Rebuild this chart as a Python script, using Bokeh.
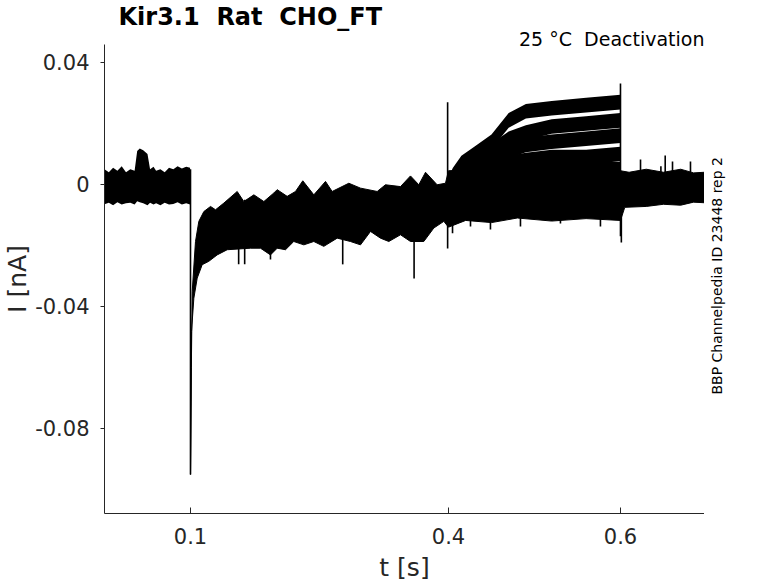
import math
from bokeh.plotting import figure
from bokeh.models import Range1d, FixedTicker, Title, Label
from bokeh.layouts import row
from bokeh.embed import file_html
from bokeh.resources import INLINE

# ---------------- data ----------------
# baseline before the step (0 - 0.1 s): envelope of all sweeps [nA]
t_base  = [0.000, 0.005, 0.010, 0.015, 0.020, 0.025, 0.030, 0.035, 0.038, 0.041, 0.045,
           0.050, 0.053, 0.057, 0.060, 0.065, 0.070, 0.075, 0.080, 0.085, 0.090, 0.095, 0.0995]
base_hi = [0.0050, 0.0040, 0.0055, 0.0045, 0.0060, 0.0040, 0.0050, 0.0045, 0.0110, 0.0118, 0.0112,
           0.0100, 0.0050, 0.0058, 0.0045, 0.0050, 0.0040, 0.0055, 0.0050, 0.0060, 0.0052, 0.0058, 0.0055]
base_lo = [-0.0065, -0.0060, -0.0068, -0.0058, -0.0066, -0.0062, -0.0060, -0.0066, -0.0055, -0.0058, -0.0062,
           -0.0068, -0.0060, -0.0066, -0.0062, -0.0068, -0.0060, -0.0066, -0.0064, -0.0058, -0.0066, -0.0062, -0.0066]

# upper edge of all sweeps after the step (0.1 - 0.7 s) [nA]
t_up = [0.1000, 0.1010, 0.1020, 0.1058, 0.1097, 0.1155, 0.1233, 0.1291, 0.1388, 0.1543,
        0.1620, 0.1737, 0.1853, 0.1969, 0.2008, 0.2124, 0.2221, 0.2306, 0.2434, 0.2570,
        0.2647, 0.2841, 0.2977, 0.3171, 0.3267, 0.3442, 0.3558, 0.3655, 0.3733, 0.3868,
        0.3965, 0.4000, 0.4500, 0.5000, 0.5500, 0.6000, 0.6100, 0.6300, 0.6500, 0.6700,
        0.6850, 0.6977]
i_up = [-0.0951, -0.0600, -0.0351, -0.0187, -0.0121, -0.0089, -0.0072, -0.0083, -0.0061, -0.0023,
        -0.0056, -0.0034, -0.0056, -0.0028, -0.0017, -0.0039, -0.0023, 0.0012, -0.0034, 0.0010,
        -0.0023, 0.0004, -0.0012, -0.0023, -0.0001, -0.0007, 0.0028, -0.0001, 0.0040, -0.0001,
        0.0004, 0.0045, 0.0050, 0.0045, 0.0050, 0.0045, 0.0040, 0.0050, 0.0040, 0.0050,
        0.0038, 0.0040]
# lower edge of all sweeps after the step [nA]
t_dn = [0.1000, 0.1012, 0.1039, 0.1078, 0.1136, 0.1213, 0.1310, 0.1427, 0.1698, 0.1814,
        0.1930, 0.2008, 0.2105, 0.2201, 0.2318, 0.2434, 0.2550, 0.2706, 0.2860, 0.2977,
        0.3093, 0.3209, 0.3306, 0.3442, 0.3558, 0.3713, 0.3829, 0.3946, 0.4000, 0.4200,
        0.4500, 0.4800, 0.5200, 0.5600, 0.6000, 0.6050, 0.6300, 0.6500, 0.6700, 0.6850,
        0.6977]
i_dn = [-0.0951, -0.0482, -0.0373, -0.0307, -0.0263, -0.0252, -0.0231, -0.0214, -0.0209, -0.0209,
        -0.0231, -0.0209, -0.0214, -0.0187, -0.0198, -0.0187, -0.0203, -0.0176, -0.0187, -0.0198,
        -0.0154, -0.0176, -0.0187, -0.0165, -0.0187, -0.0187, -0.0143, -0.0121, -0.0140, -0.0118,
        -0.0125, -0.0110, -0.0120, -0.0112, -0.0118, -0.0075, -0.0072, -0.0065, -0.0068, -0.0058,
        -0.0060]

# activating sweeps during the 0.4 - 0.6 s step (trace centres) [nA]
t_act = [0.400, 0.405, 0.415, 0.430, 0.450, 0.470, 0.490, 0.520, 0.560, 0.600]
act_1 = [0.000, 0.003, 0.007, 0.010, 0.014, 0.021, 0.024, 0.025, 0.026, 0.027]
act_2 = [0.000, 0.002, 0.005, 0.008, 0.011, 0.015, 0.017, 0.019, 0.020, 0.021]
act_3 = [0.000, 0.002, 0.004, 0.006, 0.009, 0.011, 0.013, 0.014, 0.015, 0.016]
act_4 = [0.000, 0.001, 0.003, 0.004, 0.006, 0.007, 0.008, 0.009, 0.009, 0.010]
act_5 = [0.000, 0.001, 0.002, 0.003, 0.003, 0.004, 0.004, 0.005, 0.005, 0.005]

# individual spikes: time, top, bottom [nA]
spike_t  = [0.1000, 0.1560, 0.1630, 0.1930, 0.2770, 0.3600, 0.3990, 0.4047, 0.4256, 0.4488,
            0.4837, 0.5302, 0.5767, 0.6000, 0.6010, 0.6233, 0.6470, 0.6520, 0.6605, 0.6814]
spike_hi = [0.0050, -0.0050, -0.0050, -0.0150, -0.0150, -0.0120, 0.0270, -0.0080, -0.0080, -0.0080,
            -0.0080, -0.0080, -0.0080, 0.0331, 0.0000, 0.0082, 0.0060, 0.0095, 0.0075, 0.0075]
spike_lo = [-0.0951, -0.0262, -0.0262, -0.0246, -0.0262, -0.0308, -0.0210, -0.0160, -0.0138, -0.0148,
            -0.0138, -0.0128, -0.0138, -0.0170, -0.0190, 0.0000, 0.0000, 0.0000, 0.0000, 0.0000]

x_ticks = [0.1, 0.4, 0.6]
x_tick_labels = ["0.1", "0.4", "0.6"]
y_ticks = [-0.08, -0.04, 0.0, 0.04]
y_tick_labels = ["-0.08", "-0.04", "0", "0.04"]

title_text = "Kir3.1 \u00a0Rat \u00a0CHO_FT"
cond_text = "25 °C \u00a0Deactivation"
id_text = "BBP Channelpedia ID 23448 rep 2"
x_label = "t [s]"
y_label = "I [nA]"

# ---------------- figure ----------------
FONT = "DejaVu Sans"
AX = "#262626"
H_TOTAL = 580

p = figure(output_backend="svg", toolbar_location=None,
           frame_width=600, frame_height=469,
           min_border_left=104, min_border_right=0, min_border_top=43, min_border_bottom=68,
           x_range=Range1d(0.0, 0.6977), y_range=Range1d(-0.1079, 0.0459))
p.outline_line_color = None
p.xgrid.visible = False
p.ygrid.visible = False
p.background_fill_color = "white"
p.border_fill_color = "white"

TR = "black"
p.varea(x=t_base, y1=base_lo, y2=base_hi, fill_color=TR)
p.patch(x=t_up + t_dn[::-1], y=i_up + i_dn[::-1], fill_color=TR, line_color=TR, line_width=1)
hw = 0.0024
for tr in (act_5, act_4, act_3, act_2, act_1):
    p.varea(x=t_act, y1=[v - hw for v in tr], y2=[v + hw for v in tr], fill_color=TR)
p.segment(x0=spike_t, y0=spike_lo, x1=spike_t, y1=spike_hi, line_color=TR, line_width=1.6)

# axes
for ax in (p.xaxis[0], p.yaxis[0]):
    ax.axis_line_color = AX
    ax.major_tick_line_color = AX
    ax.minor_tick_line_color = None
    ax.major_label_text_color = AX
    ax.major_label_text_font = FONT
    ax.major_label_text_font_size = "21px"
    ax.axis_label_text_font = FONT
    ax.axis_label_text_font_size = "25px"
    ax.axis_label_text_font_style = "normal"
    ax.axis_label_text_color = AX

p.xaxis.ticker = FixedTicker(ticks=x_ticks)
p.xaxis.major_label_overrides = dict(zip(x_ticks, x_tick_labels))
p.xaxis.major_tick_in = 6
p.xaxis.major_tick_out = 0
p.xaxis.major_label_standoff = 14
p.xaxis.axis_label = x_label
p.xaxis.axis_label_standoff = 6

p.yaxis.ticker = FixedTicker(ticks=y_ticks)
p.yaxis.major_label_overrides = dict(zip(y_ticks, y_tick_labels))
p.yaxis.major_tick_in = 0
p.yaxis.major_tick_out = 4
p.yaxis.major_label_standoff = 11
p.yaxis.axis_label = y_label
p.yaxis.axis_label_standoff = 0

# texts above the frame
p.add_layout(Title(text=cond_text, align="right", text_font=FONT, text_font_size="19px",
                   text_font_style="normal", text_color="black", standoff=-11), "above")
p.add_layout(Title(text=title_text, align="left", offset=14, text_font=FONT, text_font_size="24px",
                   text_font_style="bold", text_color="black", standoff=1), "above")

# narrow side panel carrying the vertical identifier text
side = figure(output_backend="svg", toolbar_location=None, width=74, height=H_TOTAL,
              min_border=0, x_axis_location=None, y_axis_location=None,
              x_range=Range1d(0, 74), y_range=Range1d(0, H_TOTAL))
side.outline_line_color = None
side.xgrid.visible = False
side.ygrid.visible = False
side.background_fill_color = "white"
side.border_fill_color = "white"
side.add_layout(Label(x=12, y=H_TOTAL - 288.5, text=id_text, angle=math.pi / 2,
                      text_font=FONT, text_font_size="14px", text_color="black",
                      text_align="center", text_baseline="middle"))

open("out.html", "w").write(file_html(row(p, side), INLINE))
